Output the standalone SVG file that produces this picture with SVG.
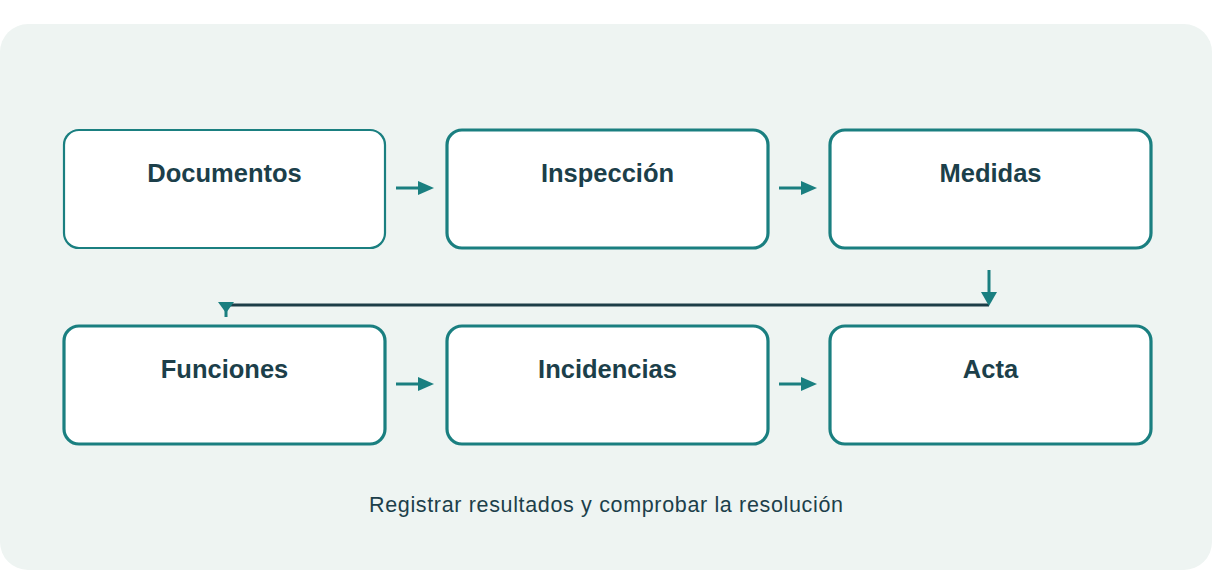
<svg xmlns="http://www.w3.org/2000/svg" width="1213" height="570" viewBox="0 0 1213 570">
  <defs>
    <style>
      .card { fill: #eef4f2; }
      .box { fill: #ffffff; stroke: #1a7f80; stroke-width: 3.2; }
      .box.thin { stroke-width: 2.2; }
      .title { font-family: "Liberation Sans", Arial, sans-serif; font-weight: bold; font-size: 25.5px; fill: #1c3f4a; text-anchor: middle; }
      .foot { font-family: "Liberation Sans", Arial, sans-serif; font-size: 21.5px; fill: #1c3f4a; }
      .arrow { stroke: #1a7f80; stroke-width: 3; fill: none; }
      .head { fill: #1a7f80; }
      .dark { stroke: #1c3d47; stroke-width: 3; fill: none; }
    </style>
  </defs>
  <rect class="card" x="0" y="24" width="1212" height="546" rx="28"/>

  <g id="node-documentos">
    <rect class="box thin" x="64" y="130" width="321" height="118" rx="15"/>
    <text class="title" x="224.5" y="182">Documentos</text>
  </g>
  <g id="node-inspeccion">
    <rect class="box" x="447" y="130" width="321" height="118" rx="15"/>
    <text class="title" x="607.5" y="182">Inspección</text>
  </g>
  <g id="node-medidas">
    <rect class="box" x="830" y="130" width="321" height="118" rx="15"/>
    <text class="title" x="990.5" y="182">Medidas</text>
  </g>
  <g id="node-funciones">
    <rect class="box" x="64" y="326" width="321" height="118" rx="15"/>
    <text class="title" x="224.5" y="378">Funciones</text>
  </g>
  <g id="node-incidencias">
    <rect class="box" x="447" y="326" width="321" height="118" rx="15"/>
    <text class="title" x="607.5" y="378">Incidencias</text>
  </g>
  <g id="node-acta">
    <rect class="box" x="830" y="326" width="321" height="118" rx="15"/>
    <text class="title" x="990.5" y="378">Acta</text>
  </g>

  <g id="connectors">
    <line class="arrow" x1="396" y1="188" x2="420" y2="188"/>
    <polygon class="head" points="418,181 434,188 418,195"/>
    <line class="arrow" x1="779" y1="188" x2="803" y2="188"/>
    <polygon class="head" points="801,181 817,188 801,195"/>
    <line class="arrow" x1="396" y1="384" x2="420" y2="384"/>
    <polygon class="head" points="418,377 434,384 418,391"/>
    <line class="arrow" x1="779" y1="384" x2="803" y2="384"/>
    <polygon class="head" points="801,377 817,384 801,391"/>

    <line class="arrow" x1="989" y1="270" x2="989" y2="294"/>
    <polyline class="dark" points="989,305 226,305"/>
    <polygon class="head" points="981,292 997,292 989,306"/>
    <line class="arrow" x1="226" y1="306" x2="226" y2="317"/>
    <polygon class="head" points="218,302 234,302 226,313"/>
  </g>

  <text class="foot" x="369" y="512" textLength="474" lengthAdjust="spacing">Registrar resultados y comprobar la resolución</text>
</svg>
